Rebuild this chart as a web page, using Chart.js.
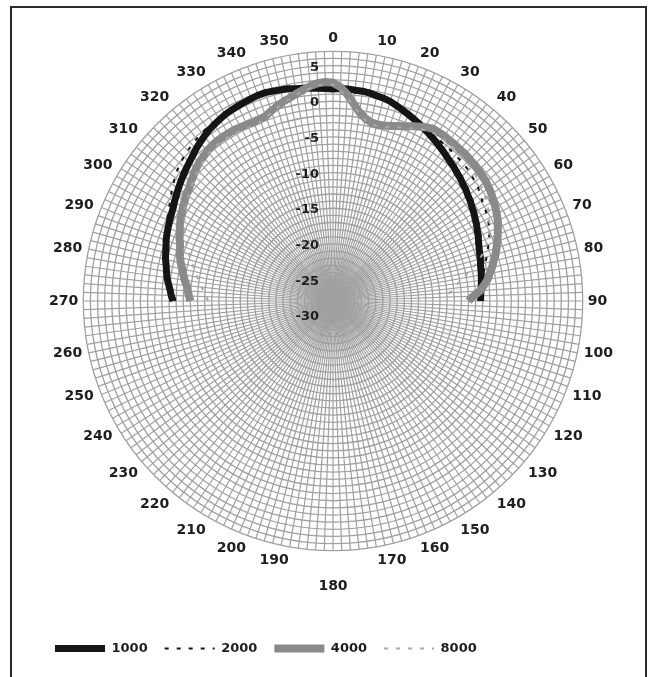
<!DOCTYPE html>
<html>
<head>
<meta charset="utf-8">
<script src="https://cdn.jsdelivr.net/npm/chart.js@4.4.1/dist/chart.umd.min.js"></script>
<style>
  html, body { margin: 0; padding: 0; background: #fff; overflow: hidden; }
  #frame { position: absolute; left: 10px; top: 6px; width: 633px; height: 720px; border: 2px solid #2b2b2b; }
  #chart { position: absolute; left: 0; top: 0; }
</style>
</head>
<body>
<div id="frame"></div>
<canvas id="chart" width="652" height="677"></canvas>
<script>
// angle labels shown every 10 degrees, grid spokes every 2 degrees
const angleLabels = ['0','10','20','30','40','50','60','70','80','90','100','110','120','130','140','150','160','170',
  '180','190','200','210','220','230','240','250','260','270','280','290','300','310','320','330','340','350'];
const tickLabels = [5, 0, -5, -10, -15, -20, -25, -30];

// values in dB, read every 2 degrees from 270 through 358, then 0 through 90
const s1000 = [
  -7.6, -7.3, -7.1, -6.8, -6.5, -6.3, -6.1, -5.8, -5.6, -5.4, -5.1, -4.9, -4.7, -4.5, -4.3,
  -4.1, -3.8, -3.5, -3.2, -2.9, -2.6, -2.3, -2.0, -1.7, -1.3, -1.0, -0.7, -0.4, -0.2, 0.0,
  0.2, 0.3, 0.4, 0.5, 0.6, 0.7, 0.7, 0.6, 0.5, 0.4, 0.2, 0.1, 0.0, -0.1, -0.2,
  -0.3, -0.2, -0.2, -0.3, -0.3, -0.4, -0.6, -0.7, -0.9, -1.2, -1.5, -1.8, -2.1, -2.4, -2.7,
  -3.0, -3.3, -3.6, -3.9, -4.2, -4.5, -4.7, -5.0, -5.2, -5.5, -5.7, -6.0, -6.2, -6.5, -6.7,
  -7.0, -7.2, -7.5, -7.7, -8.0, -8.2, -8.4, -8.5, -8.7, -8.8, -8.9, -9.0, -9.1, -9.2, -9.3, -9.3
];
const s2000 = [
  -7.9, -7.6, -7.3, -7.0, -6.7, -6.5, -6.2, -5.9, -5.6, -5.3, -5.0, -4.7, -4.4, -4.1, -3.8,
  -3.5, -3.1, -2.7, -2.3, -1.9, -1.5, -1.2, -0.9, -0.7, -0.5, -0.3, -0.1, 0.0, 0.1, 0.2,
  0.3, 0.4, 0.5, 0.6, 0.6, 0.6, 0.6, 0.5, 0.4, 0.3, 0.2, 0.1, 0.0, -0.1, -0.2,
  -0.3, -0.3, -0.3, -0.4, -0.5, -0.6, -0.8, -1.0, -1.2, -1.4, -1.6, -1.8, -2.0, -2.2, -2.4,
  -2.6, -2.8, -3.0, -3.1, -3.2, -3.3, -3.4, -3.5, -3.6, -3.8, -4.0, -4.2, -4.5, -4.8, -5.0,
  -5.2, -5.4, -5.7, -6.0, -6.4, -6.8, -7.2, -7.6, -8.0, -8.3, -8.6, -8.9, -9.2, -9.5, -9.8, -10.0
];
const s4000 = [
  -10.0, -9.8, -9.6, -9.4, -9.0, -8.7, -8.4, -8.0, -7.7, -7.4, -7.2, -6.8, -6.5, -6.1, -5.8,
  -5.5, -5.2, -4.9, -4.6, -4.4, -4.0, -3.7, -3.3, -3.0, -2.8, -2.6, -2.4, -2.3, -2.3, -2.3,
  -2.3, -2.4, -2.5, -2.6, -2.6, -2.4, -2.0, -1.6, -1.2, -0.9, -0.5, -0.1, 0.3, 0.6, 0.7,
  0.6, 0.0, -1.0, -2.2, -3.3, -4.0, -4.4, -4.5, -4.4, -4.2, -3.9, -3.6, -3.2, -2.8, -2.4,
  -2.1, -2.1, -2.1, -2.2, -2.2, -2.3, -2.3, -2.4, -2.5, -2.6, -2.7, -2.8, -3.0, -3.2, -3.5,
  -3.7, -4.0, -4.3, -4.7, -5.1, -5.5, -5.9, -6.3, -6.8, -7.2, -7.7, -8.1, -8.7, -9.3, -10.3, -11.0
];
const s8000 = [
  -12.5, -12.2, -11.9, -11.5, -11.1, -10.7, -10.3, -9.8, -9.3, -8.8, -8.3, -7.8, -7.3, -6.8, -6.4,
  -6.0, -5.6, -5.2, -4.9, -4.6, -4.3, -4.0, -3.7, -3.4, -3.1, -2.9, -2.8, -2.7, -2.7, -2.7,
  -2.8, -2.9, -3.0, -3.0, -2.9, -2.6, -2.2, -1.8, -1.4, -1.0, -0.6, -0.3, 0.0, 0.3, 0.4,
  0.3, -0.4, -1.4, -2.5, -3.5, -4.2, -4.6, -4.7, -4.6, -4.4, -4.1, -3.8, -3.5, -3.1, -2.8,
  -2.6, -2.5, -2.5, -2.6, -2.7, -2.8, -2.9, -3.0, -3.1, -3.3, -3.5, -3.7, -3.9, -4.2, -4.5,
  -4.8, -5.2, -5.6, -6.0, -6.5, -7.1, -7.8, -8.6, -9.6, -10.6, -11.5, -12.3, -13.0, -13.6, -14.1, -14.3
];

// 180 categories (every 2 degrees); only multiples of 10 carry a label
const categories = [];
for (let i = 0; i < 180; i++) categories.push(i % 5 === 0 ? angleLabels[i / 5] : '');

// place a front-half series (270..90) onto the 180 spokes
function onSpokes(vals) {
  const out = new Array(180).fill(null);
  vals.forEach((v, k) => { out[(135 + k) % 180] = v; });
  return out;
}

const font = 'DejaVu Sans';
const gridColor = '#a0a0a0';

const valueLabels = {
  id: 'valueLabels',
  afterDraw(chart) {
    const r = chart.scales.r;
    const ctx = chart.ctx;
    ctx.save();
    ctx.font = 'bold 13px "' + font + '"';
    ctx.fillStyle = '#1e1e1e';
    ctx.textAlign = 'right';
    ctx.textBaseline = 'middle';
    tickLabels.forEach(v => {
      ctx.fillText(String(v), r.xCenter - 14, r.yCenter - r.getDistanceFromCenterForValue(v) + 16);
    });
    ctx.restore();
  }
};

new Chart(document.getElementById('chart'), {
  type: 'radar',
  data: {
    labels: categories,
    datasets: [
      { label: '1000', data: onSpokes(s1000), borderColor: '#151515', backgroundColor: '#151515',
        borderWidth: 7, order: 4 },
      { label: '2000', data: onSpokes(s2000), borderColor: '#151515', backgroundColor: '#151515',
        borderWidth: 2, borderDash: [4, 8], order: 3 },
      { label: '4000', data: onSpokes(s4000), borderColor: '#8a8a8a', backgroundColor: '#8a8a8a',
        borderWidth: 8, order: 2 },
      { label: '8000', data: onSpokes(s8000), borderColor: '#a8a8a8', backgroundColor: '#a8a8a8',
        borderWidth: 2, borderDash: [4, 8], order: 1 }
    ]
  },
  options: {
    responsive: false,
    animation: false,
    layout: { padding: { left: 38, right: 28, top: 19, bottom: 12 } },
    elements: {
      point: { radius: 0, hoverRadius: 0 },
      line: { tension: 0, fill: false }
    },
    scales: {
      r: {
        min: -30,
        max: 5,
        ticks: { stepSize: 1, display: false },
        grid: { circular: true, color: gridColor, lineWidth: 1.3 },
        angleLines: { color: gridColor, lineWidth: 1.2 },
        pointLabels: {
          padding: ctx => (ctx.index === 90 ? 27 : 5),
          color: '#1e1e1e',
          font: { family: font, size: 14, weight: 'bold' }
        }
      }
    },
    plugins: {
      tooltip: { enabled: false },
      legend: {
        position: 'bottom',
        align: 'start',
        title: { display: true, text: '', font: { size: 10, lineHeight: 1.25 }, padding: { top: 7, bottom: 0 } },
        labels: {
          usePointStyle: true,
          pointStyle: 'line',
          pointStyleWidth: 50,
          boxWidth: 50,
          padding: 17,
          color: '#1e1e1e',
          font: { family: font, size: 13, weight: 'bold' },
          sort: (a, b) => a.datasetIndex - b.datasetIndex,
          generateLabels(chart) {
            const items = Chart.defaults.plugins.legend.labels.generateLabels(chart);
            items.forEach(it => {
              const ds = chart.data.datasets[it.datasetIndex];
              it.strokeStyle = ds.borderColor;
              it.lineWidth = ds.borderWidth;
              it.lineDash = ds.borderDash || [];
            });
            return items;
          }
        }
      }
    }
  },
  plugins: [valueLabels]
});
</script>
</body>
</html>
